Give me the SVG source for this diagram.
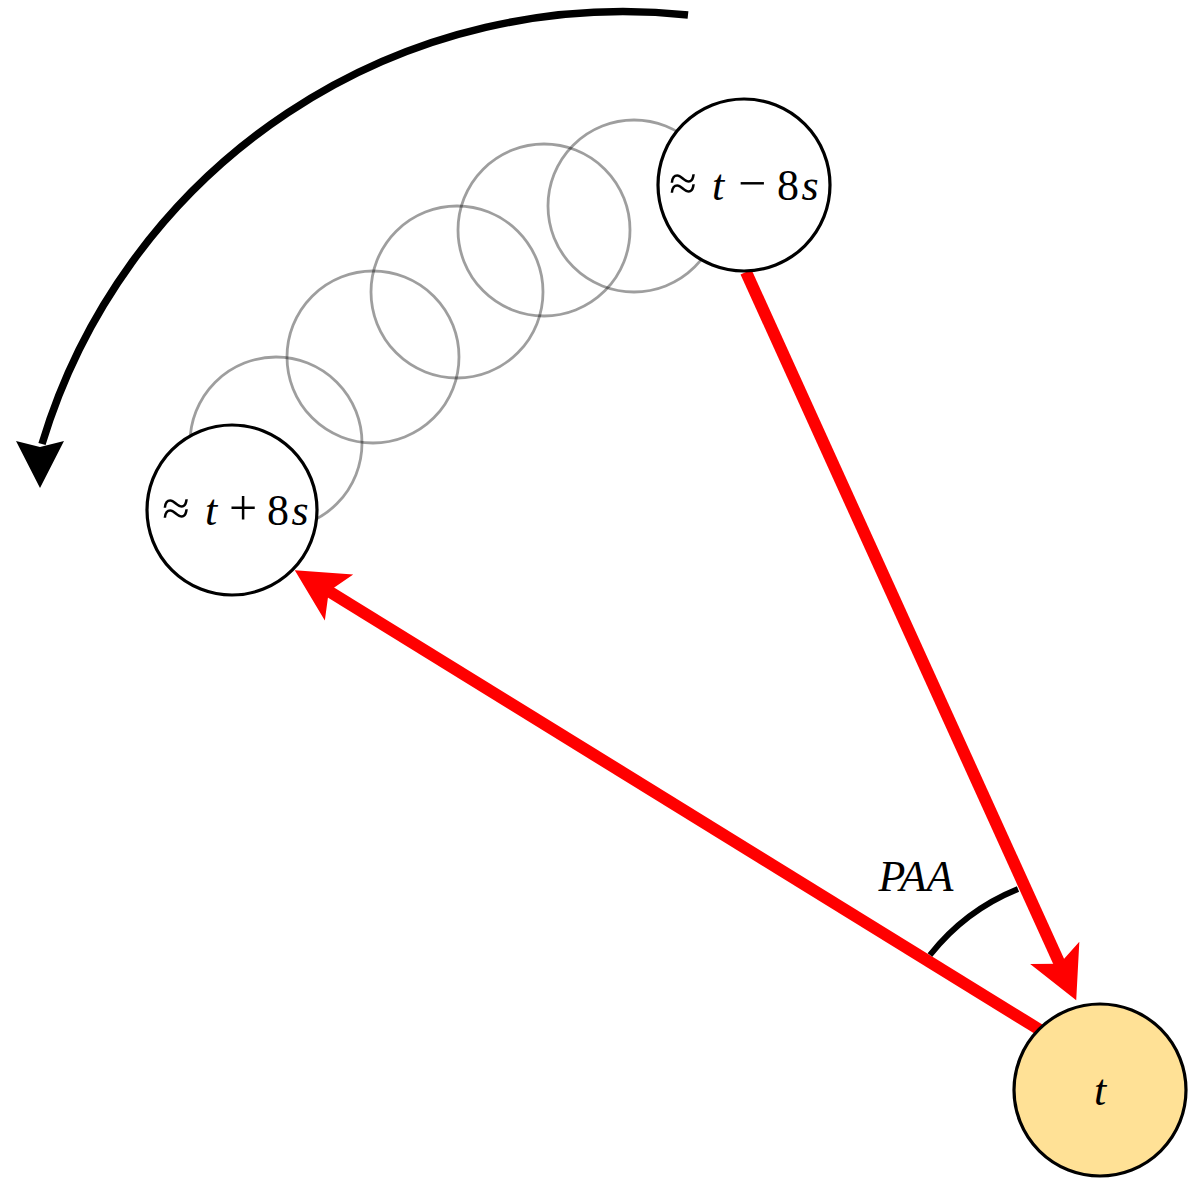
<svg xmlns="http://www.w3.org/2000/svg" width="1191" height="1178" viewBox="0 0 1191 1178">
<style>
.ghost{fill:none;stroke:#000;stroke-opacity:0.38;stroke-width:2.8}
.node{fill:#fff;stroke:#000;stroke-width:3.2}
.now{fill:#FFE196;stroke:#000;stroke-width:3.2}
.red{fill:none;stroke:#FF0000;stroke-width:12}
.lbl{font-family:"Liberation Serif","Times New Roman","DejaVu Serif",serif;font-size:44px;fill:#000;text-anchor:middle}
.it{font-style:italic}
.sym{font-size:50px}
</style>
<defs>
<marker id="redhead" markerUnits="userSpaceOnUse" orient="auto" overflow="visible" markerWidth="60" markerHeight="60" refX="0" refY="0">
<path d="M32,0 L-20,-27 L-8,0 L-20,27 Z" fill="#FF0000"/>
</marker>
</defs>
<rect width="1191" height="1178" fill="#fff"/>
<g id="motion">
<path d="M688,15 A607,607 0 0 0 42,444" fill="none" stroke="#000" stroke-width="7.5"/>
<path d="M40,488 L16,441 L40,447 L64,441 Z" fill="#000"/>
</g>
<g id="ghosts">
<circle class="ghost" cx="634" cy="206" r="86"/>
<circle class="ghost" cx="544" cy="230" r="86"/>
<circle class="ghost" cx="457" cy="292" r="86"/>
<circle class="ghost" cx="373" cy="357" r="86"/>
<circle class="ghost" cx="276" cy="443" r="86"/>
</g>
<g id="connectors">
<path class="red" d="M746,272 L1063,971" marker-end="url(#redhead)"/>
<path class="red" d="M1040,1030 L322,587" marker-end="url(#redhead)"/>
<path d="M930,955 A214,214 0 0 1 1018,889" fill="none" stroke="#000" stroke-width="6"/>
<text class="lbl it" x="916" y="891" font-size="46">PAA</text>
</g>
<g id="node-minus">
<circle class="node" cx="744" cy="185" r="86"/>
<text class="lbl" y="200"><tspan class="sym" x="683">≈</tspan><tspan class="it" x="718">t</tspan><tspan class="sym" x="752">−</tspan><tspan x="788">8</tspan><tspan class="it" x="810">s</tspan></text>
</g>
<g id="node-plus">
<circle class="node" cx="232" cy="510" r="85"/>
<text class="lbl" y="525"><tspan class="sym" x="176">≈</tspan><tspan class="it" x="211">t</tspan><tspan class="sym" x="243">+</tspan><tspan x="278">8</tspan><tspan class="it" x="300">s</tspan></text>
</g>
<g id="node-t">
<circle class="now" cx="1100" cy="1090" r="86"/>
<text class="lbl it" x="1100" y="1105" font-size="46">t</text>
</g>
</svg>
